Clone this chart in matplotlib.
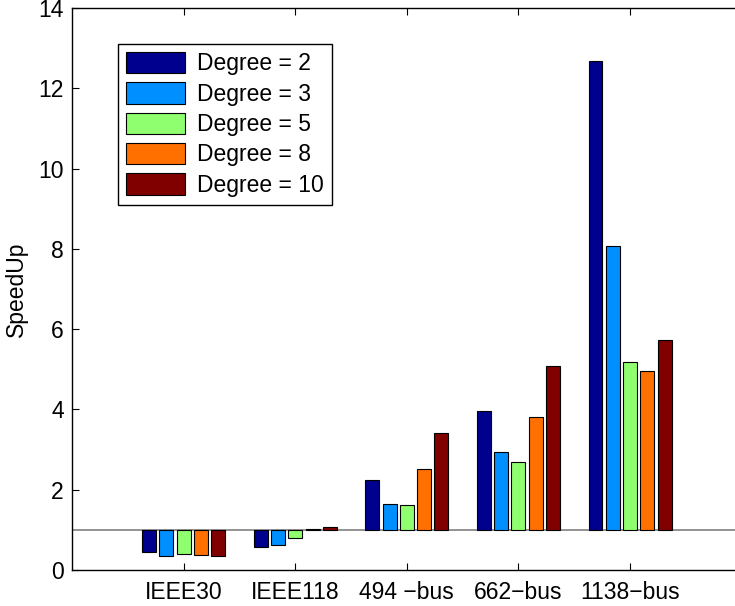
"""Grouped speed-up bars per test system, drawn from a baseline of 1."""
import matplotlib
matplotlib.use("Agg")
import matplotlib.pyplot as plt
import numpy as np

# Data
systems = ["IEEE30", "IEEE118", "494 \u2212bus", "662\u2212bus", "1138\u2212bus"]
degree_labels = ["Degree = 2", "Degree = 3", "Degree = 5", "Degree = 8", "Degree = 10"]
deg2 = [0.46, 0.57, 2.25, 3.95, 12.69]
deg3 = [0.36, 0.62, 1.65, 2.93, 8.08]
deg5 = [0.39, 0.80, 1.62, 2.69, 5.19]
deg8 = [0.37, 1.02, 2.51, 3.82, 4.95]
deg10 = [0.34, 1.08, 3.42, 5.07, 5.72]
series = [deg2, deg3, deg5, deg8, deg10]

COLORS = ["#00008F", "#008FFF", "#8FFF70", "#FF7000", "#800000"]
BASE = 1.0
PITCH = 0.155
WIDTH = 0.125

plt.rcParams["font.family"] = ["Liberation Sans", "DejaVu Sans"]

fig = plt.figure(figsize=(7.35, 6.06), dpi=100)
ax = fig.add_axes([72 / 735, 36 / 606, 663 / 735, 562 / 606])

x = np.arange(1, len(systems) + 1)
handles = []
for i, (vals, color) in enumerate(zip(series, COLORS)):
    vals = np.asarray(vals)
    bars = ax.bar(
        x + (i - 2) * PITCH,
        vals - BASE,
        bottom=BASE,
        width=WIDTH,
        color=color,
        edgecolor="black",
        linewidth=0.8,
        zorder=2,
    )
    handles.append(bars)

ax.axhline(BASE, color="#808080", linewidth=1.2, zorder=1)

ax.set_xlim(0, 5.94)
ax.set_ylim(0, 14)
ax.set_xticks(x)
ax.set_xticklabels(systems)
ax.set_yticks(np.arange(0, 15, 2))
ax.tick_params(axis="both", direction="in", length=5, width=0.8,
               labelsize=16.5, colors="black")
ax.tick_params(axis="x", top=True, pad=8)
ax.tick_params(axis="y", pad=6)
ax.spines["right"].set_visible(False)
for side in ("left", "bottom", "top"):
    ax.spines[side].set_linewidth(1.0)

ax.set_ylabel("SpeedUp", fontsize=16.5)
ax.yaxis.set_label_coords(-0.066, 0.5)

leg = ax.legend(
    handles,
    degree_labels,
    loc="upper left",
    bbox_to_anchor=(117.7 / 735, 1 - 44 / 606),
    bbox_transform=fig.transFigure,
    borderaxespad=0,
    fontsize=16.5,
    handlelength=2.57,
    handleheight=1.05,
    handletextpad=0.55,
    labelspacing=0.3,
    borderpad=0.35,
    fancybox=False,
    framealpha=1,
    edgecolor="black",
)
leg.get_frame().set_linewidth(1.0)

fig.savefig("out.png", dpi=100)
